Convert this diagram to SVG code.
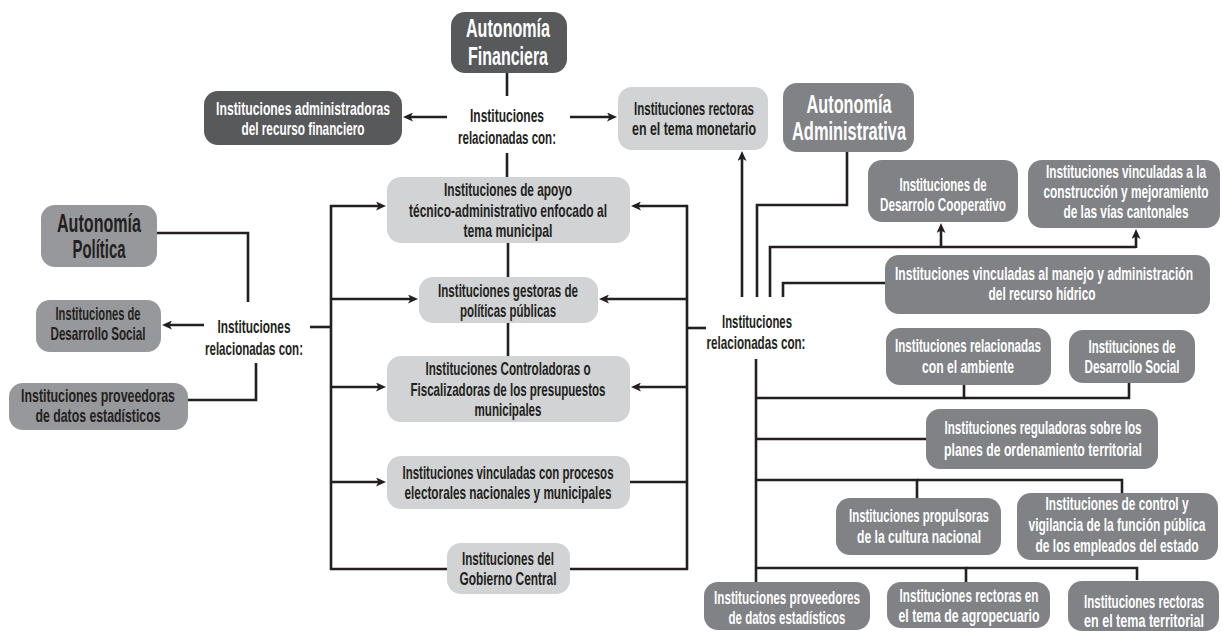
<svg xmlns="http://www.w3.org/2000/svg" width="1222" height="632" viewBox="0 0 1222 632">
  <defs>
    <style>
      .bg { fill: #ffffff; }
      .dark { fill: #58595b; }
      .mid { fill: #808285; }
      .soft { fill: #97989b; }
      .light { fill: #d1d3d4; }
      /* condensed look: narrow via textLength, tall via the y scale in each transform */
      .t { font-family: "Liberation Sans", Arial, sans-serif; font-weight: bold; font-size: 12px; text-anchor: middle; }
      .big { font-size: 20px; font-weight: bold; }
      .w { fill: #ffffff; }
      .k { fill: #231f20; }
      .ln { fill: none; stroke: #231f20; stroke-width: 2.6; stroke-linejoin: miter; stroke-linecap: butt; }
      .arr { marker-end: url(#head); }
    </style>
    <marker id="head" markerUnits="userSpaceOnUse" markerWidth="11" markerHeight="9" refX="4" refY="4.5" orient="auto">
      <path d="M0,0 L10,4.5 L0,9 L2.5,4.5 z" fill="#231f20"/>
    </marker>
  </defs>

  <rect class="bg" x="0" y="0" width="1222" height="632"/>

  <!-- connectors -->
  <g id="connectors">
    <!-- financial branch -->
    <line class="ln" x1="507" y1="73" x2="507" y2="96"/>
    <line class="ln" x1="507" y1="153" x2="507" y2="177"/>
    <line class="ln arr" x1="447" y1="117" x2="409" y2="117"/>
    <line class="ln arr" x1="570" y1="117" x2="611" y2="117"/>
    <line class="ln" x1="508" y1="243" x2="508" y2="277"/>
    <line class="ln" x1="508" y1="323" x2="508" y2="356"/>

    <!-- political branch -->
    <polyline class="ln" points="157,233 248,233 248,302"/>
    <line class="ln arr" x1="204" y1="325" x2="168" y2="325"/>
    <polyline class="ln" points="256,363 256,400 188,400"/>
    <line class="ln" x1="310" y1="327" x2="332" y2="327"/>
    <line class="ln" x1="331" y1="205" x2="331" y2="570"/>
    <line class="ln arr" x1="330" y1="206" x2="380" y2="206"/>
    <line class="ln arr" x1="330" y1="299" x2="412" y2="299"/>
    <line class="ln arr" x1="330" y1="387" x2="380" y2="387"/>
    <line class="ln arr" x1="330" y1="482" x2="380" y2="482"/>
    <line class="ln" x1="330" y1="569" x2="447" y2="569"/>

    <!-- administrative branch, left bus -->
    <line class="ln" x1="687" y1="205" x2="687" y2="570"/>
    <line class="ln arr" x1="688" y1="206" x2="637" y2="206"/>
    <line class="ln arr" x1="688" y1="299" x2="605" y2="299"/>
    <line class="ln arr" x1="688" y1="387" x2="637" y2="387"/>
    <line class="ln" x1="688" y1="482" x2="630" y2="482"/>
    <line class="ln" x1="570" y1="569" x2="688" y2="569"/>
    <line class="ln" x1="686" y1="328" x2="706" y2="328"/>

    <!-- administrative branch, upper fan -->
    <line class="ln arr" x1="742" y1="297" x2="742" y2="157"/>
    <polyline class="ln" points="847,152 847,205 757,205 757,297"/>
    <polyline class="ln" points="770,297 770,247 1136,247"/>
    <line class="ln arr" x1="941" y1="248" x2="941" y2="229"/>
    <line class="ln arr" x1="1136" y1="248" x2="1136" y2="235"/>
    <polyline class="ln" points="783,297 783,283 885,283"/>

    <!-- administrative branch, lower bus -->
    <line class="ln" x1="756" y1="359" x2="756" y2="582"/>
    <polyline class="ln" points="964,385 964,398 756,398"/>
    <polyline class="ln" points="1129,383 1129,398 964,398"/>
    <line class="ln" x1="756" y1="439" x2="926" y2="439"/>
    <polyline class="ln" points="917,498 917,480 756,480"/>
    <polyline class="ln" points="1122,493 1122,480 917,480"/>
    <polyline class="ln" points="966,583 966,568 756,568"/>
    <polyline class="ln" points="1137,580 1137,568 966,568"/>
  </g>

  <!-- financial autonomy -->
  <g id="fin-title">
    <rect class="dark" x="451" y="12" width="116" height="61" rx="14"/>
    <text class="t big w" transform="matrix(1 0 0 1.26 508 37)" textLength="84" lengthAdjust="spacingAndGlyphs">Autonomía</text>
    <text class="t big w" transform="matrix(1 0 0 1.26 508 65)" textLength="80" lengthAdjust="spacingAndGlyphs">Financiera</text>
  </g>
  <g id="fin-admin">
    <rect class="dark" x="204" y="91" width="198" height="54" rx="14"/>
    <text class="t w" transform="matrix(1 0 0 1.48 303 115)" textLength="174" lengthAdjust="spacingAndGlyphs">Instituciones administradoras</text>
    <text class="t w" transform="matrix(1 0 0 1.48 303 135)" textLength="123" lengthAdjust="spacingAndGlyphs">del recurso financiero</text>
  </g>
  <g id="fin-label">
    <text class="t k" transform="matrix(1 0 0 1.48 507 122)" textLength="74" lengthAdjust="spacingAndGlyphs">Instituciones</text>
    <text class="t k" transform="matrix(1 0 0 1.48 507 144)" textLength="98" lengthAdjust="spacingAndGlyphs">relacionadas con:</text>
  </g>
  <g id="fin-monetario">
    <rect class="light" x="618" y="87" width="150" height="63" rx="14"/>
    <text class="t k" transform="matrix(1 0 0 1.48 694 115)" textLength="120" lengthAdjust="spacingAndGlyphs">Instituciones rectoras</text>
    <text class="t k" transform="matrix(1 0 0 1.48 694 135)" textLength="124" lengthAdjust="spacingAndGlyphs">en el tema monetario</text>
  </g>

  <!-- shared central column -->
  <g id="apoyo">
    <rect class="light" x="387" y="177" width="243" height="66" rx="14"/>
    <text class="t k" transform="matrix(1 0 0 1.48 508 196)" textLength="128" lengthAdjust="spacingAndGlyphs">Instituciones de apoyo</text>
    <text class="t k" transform="matrix(1 0 0 1.48 508 217)" textLength="198" lengthAdjust="spacingAndGlyphs">técnico-administrativo enfocado al</text>
    <text class="t k" transform="matrix(1 0 0 1.48 508 237)" textLength="89" lengthAdjust="spacingAndGlyphs">tema municipal</text>
  </g>
  <g id="gestoras">
    <rect class="light" x="419" y="277" width="179" height="46" rx="14"/>
    <text class="t k" transform="matrix(1 0 0 1.48 508 297)" textLength="140" lengthAdjust="spacingAndGlyphs">Instituciones gestoras de</text>
    <text class="t k" transform="matrix(1 0 0 1.48 508 317)" textLength="96" lengthAdjust="spacingAndGlyphs">políticas públicas</text>
  </g>
  <g id="controladoras">
    <rect class="light" x="387" y="356" width="243" height="66" rx="14"/>
    <text class="t k" transform="matrix(1 0 0 1.48 508 375)" textLength="165" lengthAdjust="spacingAndGlyphs">Instituciones Controladoras o</text>
    <text class="t k" transform="matrix(1 0 0 1.48 508 396)" textLength="195" lengthAdjust="spacingAndGlyphs">Fiscalizadoras de los presupuestos</text>
    <text class="t k" transform="matrix(1 0 0 1.48 508 416)" textLength="67" lengthAdjust="spacingAndGlyphs">municipales</text>
  </g>
  <g id="electorales">
    <rect class="light" x="387" y="456" width="243" height="53" rx="14"/>
    <text class="t k" transform="matrix(1 0 0 1.48 508 479)" textLength="211" lengthAdjust="spacingAndGlyphs">Instituciones vinculadas con procesos</text>
    <text class="t k" transform="matrix(1 0 0 1.48 508 499)" textLength="207" lengthAdjust="spacingAndGlyphs">electorales nacionales y municipales</text>
  </g>
  <g id="gobierno">
    <rect class="light" x="447" y="543" width="123" height="51" rx="14"/>
    <text class="t k" transform="matrix(1 0 0 1.48 508 565)" textLength="92" lengthAdjust="spacingAndGlyphs">Instituciones del</text>
    <text class="t k" transform="matrix(1 0 0 1.48 508 585)" textLength="97" lengthAdjust="spacingAndGlyphs">Gobierno Central</text>
  </g>

  <!-- political autonomy -->
  <g id="pol-title">
    <rect class="soft" x="41" y="205" width="116" height="62" rx="14"/>
    <text class="t big k" transform="matrix(1 0 0 1.26 99 232)" textLength="84" lengthAdjust="spacingAndGlyphs">Autonomía</text>
    <text class="t big k" transform="matrix(1 0 0 1.26 99 258)" textLength="53" lengthAdjust="spacingAndGlyphs">Política</text>
  </g>
  <g id="pol-label">
    <text class="t k" transform="matrix(1 0 0 1.48 254 333)" textLength="73" lengthAdjust="spacingAndGlyphs">Instituciones</text>
    <text class="t k" transform="matrix(1 0 0 1.48 254 355)" textLength="98" lengthAdjust="spacingAndGlyphs">relacionadas con:</text>
  </g>
  <g id="pol-social">
    <rect class="soft" x="36" y="300" width="125" height="52" rx="14"/>
    <text class="t k" transform="matrix(1 0 0 1.48 98 320)" textLength="85" lengthAdjust="spacingAndGlyphs">Instituciones de</text>
    <text class="t k" transform="matrix(1 0 0 1.48 98 340)" textLength="95" lengthAdjust="spacingAndGlyphs">Desarrollo Social</text>
  </g>
  <g id="pol-datos">
    <rect class="soft" x="9" y="383" width="179" height="47" rx="14"/>
    <text class="t k" transform="matrix(1 0 0 1.48 98 402)" textLength="154" lengthAdjust="spacingAndGlyphs">Instituciones proveedoras</text>
    <text class="t k" transform="matrix(1 0 0 1.48 98 422)" textLength="125" lengthAdjust="spacingAndGlyphs">de datos estadísticos</text>
  </g>

  <!-- administrative autonomy -->
  <g id="adm-title">
    <rect class="mid" x="783" y="83" width="131" height="69" rx="14"/>
    <text class="t big w" transform="matrix(1 0 0 1.26 849 113)" textLength="85" lengthAdjust="spacingAndGlyphs">Autonomía</text>
    <text class="t big w" transform="matrix(1 0 0 1.26 849 140)" textLength="114" lengthAdjust="spacingAndGlyphs">Administrativa</text>
  </g>
  <g id="adm-label">
    <text class="t k" transform="matrix(1 0 0 1.48 757 328)" textLength="70" lengthAdjust="spacingAndGlyphs">Instituciones</text>
    <text class="t k" transform="matrix(1 0 0 1.48 756 349)" textLength="99" lengthAdjust="spacingAndGlyphs">relacionadas con:</text>
  </g>
  <g id="cooperativo">
    <rect class="mid" x="868" y="160" width="150" height="62" rx="14"/>
    <text class="t w" transform="matrix(1 0 0 1.48 943 191)" textLength="87" lengthAdjust="spacingAndGlyphs">Instituciones de</text>
    <text class="t w" transform="matrix(1 0 0 1.48 943 211)" textLength="126" lengthAdjust="spacingAndGlyphs">Desarrolo Cooperativo</text>
  </g>
  <g id="vias">
    <rect class="mid" x="1028" y="160" width="192" height="68" rx="14"/>
    <text class="t w" transform="matrix(1 0 0 1.48 1126 178)" textLength="160" lengthAdjust="spacingAndGlyphs">Instituciones vinculadas a la</text>
    <text class="t w" transform="matrix(1 0 0 1.48 1126 198)" textLength="165" lengthAdjust="spacingAndGlyphs">construcción y mejoramiento</text>
    <text class="t w" transform="matrix(1 0 0 1.48 1126 218)" textLength="125" lengthAdjust="spacingAndGlyphs">de las vías cantonales</text>
  </g>
  <g id="hidrico">
    <rect class="mid" x="885" y="255" width="325" height="59" rx="14"/>
    <text class="t w" transform="matrix(1 0 0 1.48 1044 280)" textLength="298" lengthAdjust="spacingAndGlyphs">Instituciones vinculadas al manejo y administración</text>
    <text class="t w" transform="matrix(1 0 0 1.48 1042 300)" textLength="107" lengthAdjust="spacingAndGlyphs">del recurso hídrico</text>
  </g>
  <g id="ambiente">
    <rect class="mid" x="886" y="328" width="165" height="57" rx="14"/>
    <text class="t w" transform="matrix(1 0 0 1.48 968 352)" textLength="146" lengthAdjust="spacingAndGlyphs">Instituciones relacionadas</text>
    <text class="t w" transform="matrix(1 0 0 1.48 968 373)" textLength="92" lengthAdjust="spacingAndGlyphs">con el ambiente</text>
  </g>
  <g id="adm-social">
    <rect class="mid" x="1069" y="330" width="126" height="53" rx="14"/>
    <text class="t w" transform="matrix(1 0 0 1.48 1132 353)" textLength="87" lengthAdjust="spacingAndGlyphs">Instituciones de</text>
    <text class="t w" transform="matrix(1 0 0 1.48 1132 373)" textLength="95" lengthAdjust="spacingAndGlyphs">Desarrollo Social</text>
  </g>
  <g id="reguladoras">
    <rect class="mid" x="926" y="409" width="232" height="60" rx="14"/>
    <text class="t w" transform="matrix(1 0 0 1.48 1043 434)" textLength="197" lengthAdjust="spacingAndGlyphs">Instituciones reguladoras sobre los</text>
    <text class="t w" transform="matrix(1 0 0 1.48 1043 456)" textLength="198" lengthAdjust="spacingAndGlyphs">planes de ordenamiento territorial</text>
  </g>
  <g id="propulsoras">
    <rect class="mid" x="836" y="498" width="165" height="57" rx="14"/>
    <text class="t w" transform="matrix(1 0 0 1.48 919 522)" textLength="140" lengthAdjust="spacingAndGlyphs">Instituciones propulsoras</text>
    <text class="t w" transform="matrix(1 0 0 1.48 919 543)" textLength="124" lengthAdjust="spacingAndGlyphs">de la cultura nacional</text>
  </g>
  <g id="control">
    <rect class="mid" x="1017" y="493" width="201" height="67" rx="14"/>
    <text class="t w" transform="matrix(1 0 0 1.48 1117 510)" textLength="143" lengthAdjust="spacingAndGlyphs">Instituciones de control y</text>
    <text class="t w" transform="matrix(1 0 0 1.48 1117 531)" textLength="177" lengthAdjust="spacingAndGlyphs">vigilancia de la función pública</text>
    <text class="t w" transform="matrix(1 0 0 1.48 1117 552)" textLength="163" lengthAdjust="spacingAndGlyphs">de los empleados del estado</text>
  </g>
  <g id="adm-datos">
    <rect class="mid" x="704" y="582" width="166" height="48" rx="14"/>
    <text class="t w" transform="matrix(1 0 0 1.48 787 604)" textLength="146" lengthAdjust="spacingAndGlyphs">Instituciones proveedores</text>
    <text class="t w" transform="matrix(1 0 0 1.48 787 624)" textLength="117" lengthAdjust="spacingAndGlyphs">de datos estadísticos</text>
  </g>
  <g id="agropecuario">
    <rect class="mid" x="887" y="582" width="163" height="46" rx="14"/>
    <text class="t w" transform="matrix(1 0 0 1.48 969 602)" textLength="139" lengthAdjust="spacingAndGlyphs">Instituciones rectoras en</text>
    <text class="t w" transform="matrix(1 0 0 1.48 969 622)" textLength="141" lengthAdjust="spacingAndGlyphs">el tema de agropecuario</text>
  </g>
  <g id="territorial">
    <rect class="mid" x="1068" y="581" width="151" height="50" rx="14"/>
    <text class="t w" transform="matrix(1 0 0 1.48 1144 608)" textLength="120" lengthAdjust="spacingAndGlyphs">Instituciones rectoras</text>
    <text class="t w" transform="matrix(1 0 0 1.48 1144 627)" textLength="120" lengthAdjust="spacingAndGlyphs">en el tema territorial</text>
  </g>
</svg>
